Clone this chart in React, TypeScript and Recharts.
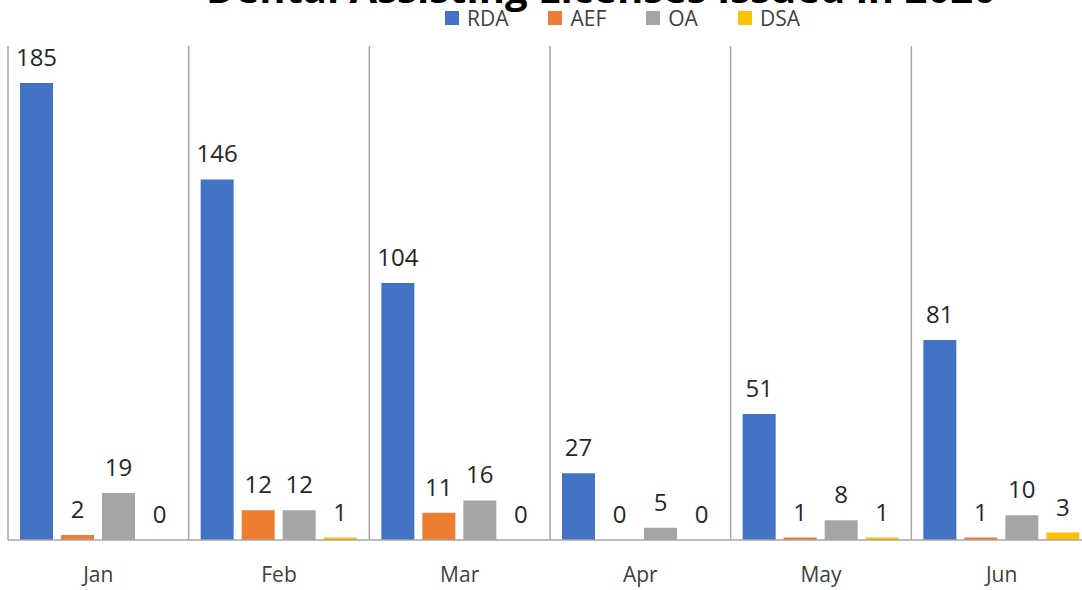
import { BarChart, Bar, XAxis, YAxis, CartesianGrid, LabelList } from "recharts";

const months = ["Jan", "Feb", "Mar", "Apr", "May", "Jun"];
const rda = [185, 146, 104, 27, 51, 81];
const aef = [2, 12, 11, 0, 1, 1];
const oa = [19, 12, 16, 5, 8, 10];
const dsa = [0, 1, 0, 0, 1, 3];

const SERIES = [
  { key: "RDA", values: rda, color: "#4472C4" },
  { key: "AEF", values: aef, color: "#ED7D31" },
  { key: "OA", values: oa, color: "#A5A5A5" },
  { key: "DSA", values: dsa, color: "#FFC000" },
];

const data = months.map((m, i) => {
  const row: Record<string, string | number> = { name: m };
  SERIES.forEach((s) => (row[s.key] = s.values[i]));
  return row;
});

const FONT = "'Open Sans', sans-serif";

function LegendTop() {
  return (
    <div
      style={{
        position: "absolute",
        top: 4,
        left: 445,
        display: "flex",
        gap: 40,
        fontSize: 21,
        lineHeight: "28px",
        color: "#404040",
      }}
    >
      {SERIES.map((s) => (
        <div key={s.key} style={{ display: "flex", alignItems: "center" }}>
          <span style={{ display: "inline-block", width: 14, height: 14, background: s.color, marginRight: 8 }} />
          <span>{s.key}</span>
        </div>
      ))}
    </div>
  );
}

// draws the value even when the bar has zero height
const renderLabel = (props: any) => {
  const { x, y, width, value } = props;
  return (
    <text
      x={Number(x) + Number(width) / 2}
      y={Number(y) - 17}
      textAnchor="middle"
      fill="#262626"
      fontSize={24}
      fontFamily={FONT}
    >
      {value}
    </text>
  );
};

export default function App() {
  return (
    <div
      style={{
        position: "fixed",
        left: 0,
        top: 0,
        width: 1082,
        height: 590,
        overflow: "hidden",
        background: "#fff",
        fontFamily: FONT,
      }}
    >
      {/* title is cut off by the top edge in the reference */}
      <div
        style={{
          position: "absolute",
          left: 0,
          top: -35.5,
          width: 1202,
          textAlign: "center",
          fontSize: 40,
          fontWeight: 700,
          color: "#000",
          lineHeight: "46px",
          whiteSpace: "nowrap",
        }}
      >
        Dental Assisting Licenses Issued in 2020
      </div>
      <div style={{ position: "absolute", left: 0, top: 0 }}>
        <BarChart
          width={1100}
          height={590}
          data={data}
          margin={{ top: 46, right: 8, left: 8, bottom: 10 }}
          barCategoryGap={12}
          barGap={8}
        >
          <CartesianGrid
            horizontal={false}
            stroke="#A6A6A6"
            strokeWidth={1.5}
            verticalCoordinatesGenerator={({ offset }: any) =>
              months.map((_, i) => offset.left + (i * offset.width) / months.length)
            }
          />
          <XAxis
            dataKey="name"
            height={40}
            tickLine={false}
            tickSize={0}
            tickMargin={27}
            axisLine={{ stroke: "#A6A6A6", strokeWidth: 1.5 }}
            tick={{ fill: "#404040", fontSize: 21, fontFamily: FONT }}
            interval={0}
          />
          <YAxis hide domain={[0, 200]} />
          {SERIES.map((s) => (
            <Bar
              key={s.key}
              dataKey={s.key}
              fill={s.color}
              minPointSize={(v: number) => (v === 0 ? 0.01 : 0)}
              isAnimationActive={false}
            >
              <LabelList dataKey={s.key} content={renderLabel} />
            </Bar>
          ))}
        </BarChart>
      </div>
      <LegendTop />
    </div>
  );
}
